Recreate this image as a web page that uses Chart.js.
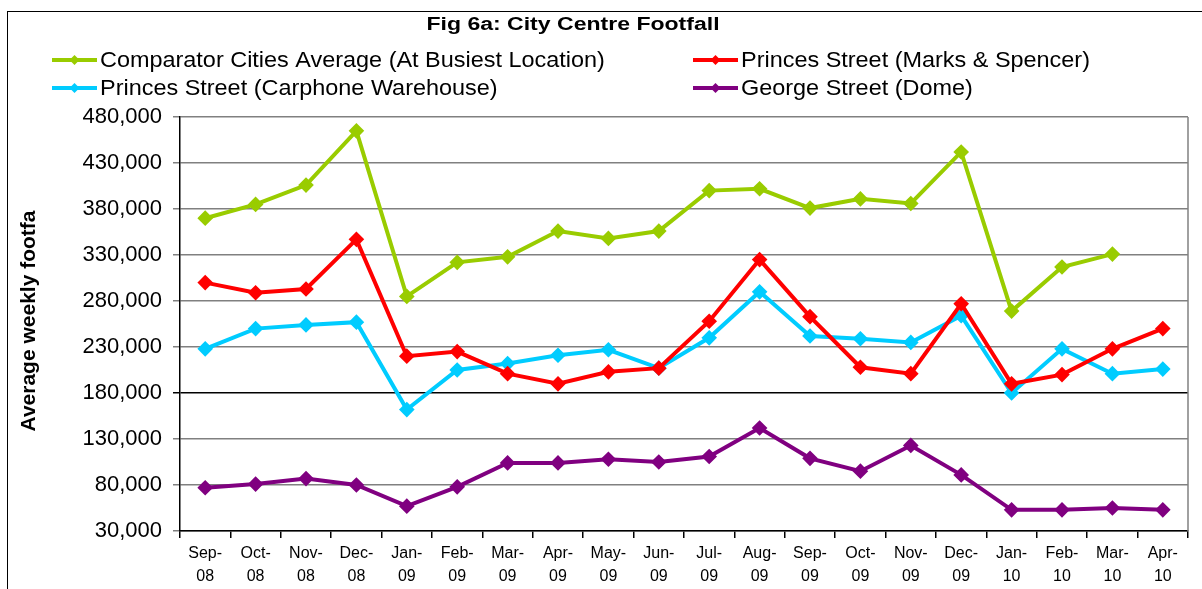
<!DOCTYPE html>
<html>
<head>
<meta charset="utf-8">
<script src="https://cdn.jsdelivr.net/npm/chart.js@4/dist/chart.umd.min.js"></script>
<style>
  html, body { margin: 0; padding: 0; background: #fff; }
  #wrap { position: relative; width: 1202px; height: 589px; }
</style>
</head>
<body>
<div id="wrap"><canvas id="chart"></canvas></div>
<script>
// categories (two-line labels like the original axis)
const months = [
  ["Sep-", "08"], ["Oct-", "08"], ["Nov-", "08"], ["Dec-", "08"],
  ["Jan-", "09"], ["Feb-", "09"], ["Mar-", "09"], ["Apr-", "09"],
  ["May-", "09"], ["Jun-", "09"], ["Jul-", "09"], ["Aug-", "09"],
  ["Sep-", "09"], ["Oct-", "09"], ["Nov-", "09"], ["Dec-", "09"],
  ["Jan-", "10"], ["Feb-", "10"], ["Mar-", "10"], ["Apr-", "10"]
];

// series values
const comparatorAvg = [370000, 385000, 406000, 465000, 285000, 322000, 328000, 356000, 348000, 356000,
                       400000, 402000, 381000, 391000, 386000, 442000, 269000, 317000, 331000, null];
const marksSpencer  = [300000, 289000, 293000, 347000, 220000, 225000, 201000, 190000, 203000, 207000,
                       258000, 325000, 263000, 208000, 201000, 277000, 190000, 200000, 228000, 250000];
const carphone      = [228000, 250000, 254000, 257000, 162000, 205000, 212000, 221000, 227000, 207000,
                       240000, 290000, 242000, 239000, 235000, 264000, 180000, 228000, 201000, 206000];
const georgeDome    = [77000, 81000, 87000, 80000, 57000, 78000, 104000, 104000, 108000, 105000,
                       111000, 142000, 109000, 95000, 123000, 91000, 53000, 53000, 55000, 53000];

const seriesNames = [
  "Comparator Cities Average (At Busiest Location)",
  "Princes Street (Marks & Spencer)",
  "Princes Street (Carphone Warehouse)",
  "George Street (Dome)"
];
const seriesColors = ["#99CC00", "#FF0000", "#00CCFF", "#800080"];

const yMin = 30000, yMax = 480000, yStep = 50000;

const FONT = "'Liberation Sans', Arial, sans-serif";

function makeSet(i, data) {
  return {
    label: seriesNames[i],
    data: data,
    borderColor: seriesColors[i],
    backgroundColor: seriesColors[i],
    borderWidth: 4,
    pointStyle: "rectRot",
    pointRadius: 5,
    pointHoverRadius: 5,
    tension: 0,
    spanGaps: false
  };
}

// text a bit wider than the font draws it, like the original
function wideText(ctx, text, x, y, sx) {
  ctx.save();
  ctx.translate(x, y);
  ctx.scale(sx, 1);
  ctx.fillText(text, 0, 0);
  ctx.restore();
}

// frame, title, y title, custom two-column legend, plot border
const decorations = {
  id: "decorations",
  afterDraw(chart) {
    const ctx = chart.ctx;
    const area = chart.chartArea;
    ctx.save();

    // outer chart frame (runs off the right and bottom edge)
    ctx.strokeStyle = "#000";
    ctx.lineWidth = 1;
    ctx.strokeRect(7.5, 11.5, 1300, 700);

    // plot area right border
    ctx.strokeStyle = "#808080";
    ctx.lineWidth = 1.5;
    ctx.beginPath();
    ctx.moveTo(area.right, area.top);
    ctx.lineTo(area.right, area.bottom);
    ctx.stroke();

    // title
    ctx.fillStyle = "#000";
    ctx.font = "bold 18px " + FONT;
    ctx.textAlign = "center";
    ctx.textBaseline = "middle";
    wideText(ctx, "Fig 6a: City Centre Footfall", 573, 25, 1.28);

    // y axis title
    ctx.save();
    ctx.translate(29, 321);
    ctx.rotate(-Math.PI / 2);
    ctx.font = "bold 21px " + FONT;
    ctx.fillText("Average weekly footfa", 0, 0);
    ctx.restore();

    // legend in two columns
    const cols = [52, 693];
    const rows = [60, 88];
    ctx.font = "22px " + FONT;
    ctx.textAlign = "left";
    chart.data.datasets.forEach((ds, i) => {
      const x = cols[i % 2];
      const y = rows[Math.floor(i / 2)];
      ctx.strokeStyle = ds.borderColor;
      ctx.lineWidth = 4;
      ctx.beginPath();
      ctx.moveTo(x, y);
      ctx.lineTo(x + 45, y);
      ctx.stroke();
      ctx.fillStyle = ds.borderColor;
      ctx.beginPath();
      ctx.moveTo(x + 22.5, y - 5);
      ctx.lineTo(x + 27.5, y);
      ctx.lineTo(x + 22.5, y + 5);
      ctx.lineTo(x + 17.5, y);
      ctx.closePath();
      ctx.fill();
      ctx.fillStyle = "#000";
      wideText(ctx, ds.label, x + 48, y + 1, 1.065);
    });

    ctx.restore();
  }
};

new Chart(document.getElementById("chart"), {
  type: "line",
  data: {
    labels: months,
    datasets: [
      makeSet(0, comparatorAvg),
      makeSet(1, marksSpencer),
      makeSet(2, carphone),
      makeSet(3, georgeDome)
    ]
  },
  options: {
    responsive: true,
    maintainAspectRatio: false,
    animation: false,
    layout: { padding: { top: 117, right: 14, left: 0, bottom: 0 } },
    plugins: {
      legend: { display: false },
      title: { display: false },
      tooltip: { enabled: false }
    },
    scales: {
      x: {
        offset: true,
        afterFit: (scale) => { scale.height = 58; },
        grid: {
          offset: true,
          drawOnChartArea: false,
          drawTicks: true,
          tickLength: 7,
          color: "#000",
          lineWidth: 1.5
        },
        border: { color: "#000", width: 1.5 },
        ticks: {
          color: "#000",
          padding: 4,
          maxRotation: 0,
          autoSkip: false,
          font: { family: FONT, size: 16, lineHeight: 1.45 }
        }
      },
      y: {
        min: yMin,
        max: yMax,
        afterFit: (scale) => { scale.width = 180; },
        grid: {
          color: (c) => (c.tick && c.tick.value === 180000 ? "#000" : "#808080"),
          lineWidth: 1.5,
          drawTicks: true,
          tickLength: 7
        },
        border: { color: "#000", width: 1.5 },
        ticks: {
          stepSize: yStep,
          color: "#000",
          padding: 11,
          font: { family: FONT, size: 22 },
          callback: (v) => v.toLocaleString("en-GB")
        }
      }
    }
  },
  plugins: [decorations]
});
</script>
</body>
</html>
